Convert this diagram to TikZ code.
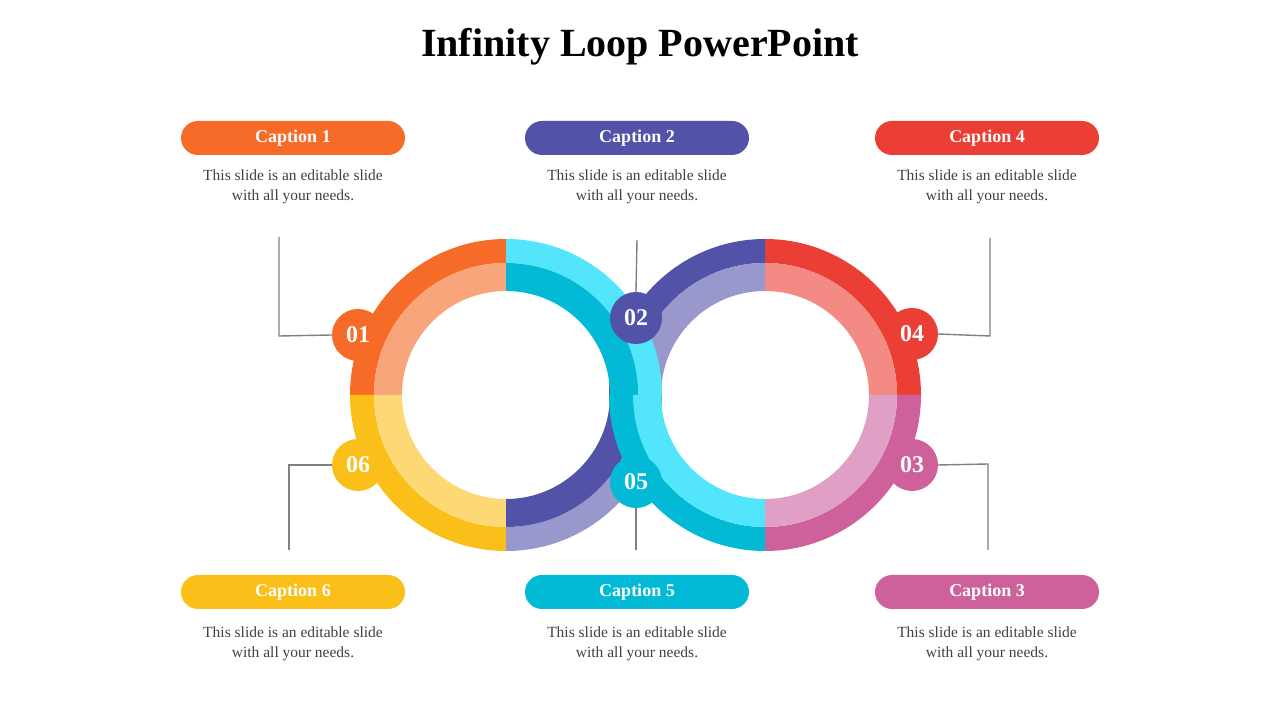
\documentclass[tikz,border=0pt]{standalone}
\usepackage{fontspec}
\setmainfont{Liberation Serif}
\usetikzlibrary{calc}
\definecolor{org}{HTML}{F76B28}\definecolor{orgL}{HTML}{F9A57C}
\definecolor{yel}{HTML}{FAC019}\definecolor{yelL}{HTML}{FCD975}
\definecolor{red}{HTML}{EB3F35}\definecolor{redL}{HTML}{F48A84}
\definecolor{pnk}{HTML}{CE619B}\definecolor{pnkL}{HTML}{E0A0C5}
\definecolor{pur}{HTML}{5152A8}\definecolor{purL}{HTML}{9898CD}
\definecolor{cya}{HTML}{03BAD6}\definecolor{cyaL}{HTML}{52E5FC}
\definecolor{txt}{HTML}{404040}
\newcommand{\sect}[5]{\fill[#1] ($(#2)+(#3:#5)$) arc[start angle=#3,end angle=#4,radius=#5] -- ($(#2)+(#4:#5-24)$) arc[start angle=#4,end angle=#3,radius=#5-24] -- cycle;}
\newcommand{\sectB}[4]{\fill[#1] ($(#2)+(#3:132)$) arc[start angle=#3,end angle=#4,radius=132] -- ($(#2)+(#4:104)$) arc[start angle=#4,end angle=#3,radius=104] -- cycle;}
\newcommand{\sectA}[4]{\fill[#1] ($(#2)+(#3:156)$) arc[start angle=#3,end angle=#4,radius=156] -- ($(#2)+(#4:132)$) arc[start angle=#4,end angle=#3,radius=132] -- cycle;}
\tikzset{
 pill/.style={rounded corners=17pt,minimum width=224pt,minimum height=34pt,text=white,font=\fontsize{18}{20}\selectfont\bfseries,inner sep=0pt},
 body/.style={align=center,text=txt,font=\fontsize{15.5}{19.5}\selectfont},
 num/.style={circle,minimum size=52pt,inner sep=0pt,text=white,font=\fontsize{24}{24}\selectfont\bfseries},
 conn/.style={draw=gray,line width=1.4pt}
}
\begin{document}
\begin{tikzpicture}[x=1pt,y=1pt]
\useasboundingbox (0,0) rectangle (1280,720);
\node (title) at (640,673) {\fontsize{40}{44}\selectfont\bfseries Infinity Loop PowerPoint};
\coordinate (L) at (506,325);
\coordinate (R) at (765,325);
% connectors
\coordinate (a1) at (279,483); \coordinate (a1b) at (279,384);
\coordinate (a4) at (990,482); \coordinate (a4b) at (990,384);
\coordinate (a3) at (988,170); \coordinate (a3b) at (988,256);
\coordinate (a6) at (289,170); \coordinate (a6b) at (289,255);
\coordinate (a2) at (637,480); \coordinate (a5) at (636,170);
% outer quadrants
\sectA{org}{L}{90}{180}\sectB{orgL}{L}{90}{180}
\sectA{yel}{L}{180}{270}\sectB{yelL}{L}{180}{270}
\sectA{red}{R}{0}{90}\sectB{redL}{R}{0}{90}
\sectA{pnk}{R}{270}{360}\sectB{pnkL}{R}{270}{360}
% purple strand
\sectA{purL}{L}{270}{360}\sectB{pur}{L}{270}{360}
\sectA{pur}{R}{90}{180}\sectB{purL}{R}{90}{180}
% cyan strand
\sectA{cyaL}{L}{0}{90}\sectB{cya}{L}{0}{90}
\sectA{cya}{R}{180}{270}\sectB{cyaL}{R}{180}{270}
% number circles
\node[num,fill=org] (n1) at (358,385) {01};
\node[num,fill=pur] (n2) at (636,402) {02};
\node[num,fill=red] (n4) at (912,386) {04};
\node[num,fill=pnk] (n3) at (912,255) {03};
\node[num,fill=yel] (n6) at (358,255) {06};
\node[num,fill=cya] (n5) at (636,238) {05};
\begin{scope}[on background layer/.style={}]
\end{scope}
\draw[conn] (a1) -- (a1b) -- (n1.west);
\draw[conn] (a4) -- (a4b) -- (n4.east);
\draw[conn] (a3) -- (a3b) -- (n3.east);
\draw[conn] (a6) -- (a6b) -- (n6.west);
\draw[conn] (a2) -- (n2.north);
\draw[conn] (a5) -- (n5.south);
% captions
\node[pill,fill=org] (c1) at (293,582) {Caption 1};
\node[pill,fill=pur] (c2) at (637,582) {Caption 2};
\node[pill,fill=red] (c4) at (987,582) {Caption 4};
\node[pill,fill=yel] (c6) at (293,128) {Caption 6};
\node[pill,fill=cya] (c5) at (637,128) {Caption 5};
\node[pill,fill=pnk] (c3) at (987,128) {Caption 3};
\foreach \n/\x/\y in {t1/293/533,t2/637/533,t4/987/533,t6/293/76,t5/637/76,t3/987/76}
  \node[body] (\n) at (\x,\y) {This slide is an editable slide\\with all your needs.};
\end{tikzpicture}
\end{document}
